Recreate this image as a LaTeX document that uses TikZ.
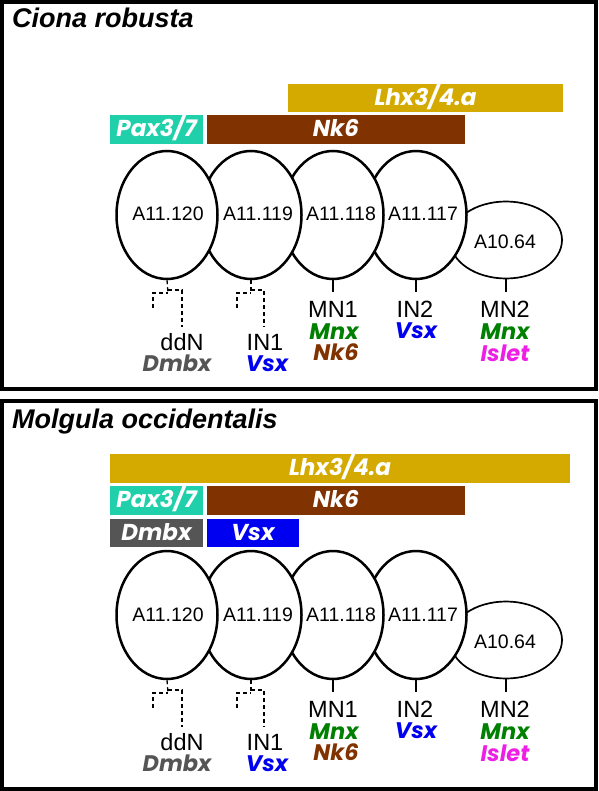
\documentclass[tikz,border=0pt]{standalone}
\usepackage{fontspec}
\setmainfont{Poppins}
\newfontfamily\titlef{Liberation Sans}
\newfontfamily\plainf{Liberation Sans}
\usetikzlibrary{shapes.geometric}
\definecolor{lhxc}{RGB}{212,170,0}
\definecolor{paxc}{RGB}{32,208,170}
\definecolor{nkc}{RGB}{128,51,0}
\definecolor{dmbxc}{RGB}{85,85,85}
\definecolor{vsxc}{RGB}{0,0,240}
\definecolor{mnxc}{RGB}{0,128,0}
\definecolor{isletc}{RGB}{238,30,230}
\newcommand\cellf{\plainf\fontsize{19.5}{19.5}\selectfont}
\newcommand\lblf{\plainf\fontsize{23.5}{23.5}\selectfont}
\newcommand\genef{\fontsize{22.5}{22.5}\selectfont\bfseries\itshape}
\newcommand\barf{\fontsize{23}{23}\selectfont\bfseries\itshape}
\newcommand\ttlf{\titlef\fontsize{27}{27}\selectfont\bfseries\itshape}
\tikzset{
  frame/.style={draw=black, line width=4.5pt},
  bar/.style={rectangle, inner sep=0pt, outer sep=0pt, minimum height=28.5pt, text=white, font=\barf, text height=14.5pt, text depth=0pt},
  cell/.style={ellipse, draw=black, line width=2.5pt, fill=white, inner sep=0pt},
  celltxt/.style={font=\cellf, anchor=base, inner sep=0pt},
  lbl/.style={font=\lblf, anchor=base, inner sep=0pt},
  gene/.style={font=\genef, anchor=base, inner sep=0pt},
  tick/.style={draw=black, line width=1.3pt},
  dsh/.style={draw=black, line width=1.3pt, dash pattern=on 4pt off 3pt},
  ttl/.style={font=\ttlf, anchor=base west, inner sep=0pt}
}
\newcommand\cellrow[2]{%
\begin{scope}[shift={(0,#2)}]
  \node[cell, line width=1.7pt, minimum width=112pt, minimum height=77pt] (#1c5) at (506,240) {};
  \node[cell, minimum width=101pt, minimum height=128pt] (#1c4) at (416,215) {};
  \node[cell, minimum width=101pt, minimum height=128pt] (#1c3) at (333,215) {};
  \node[cell, minimum width=101pt, minimum height=128pt] (#1c2) at (251,215) {};
  \node[cell, minimum width=101pt, minimum height=128pt] (#1c1) at (167,215) {};
  \node[celltxt] (#1n1) at (168,221) {A11.120};
  \node[celltxt] (#1n2) at (258,221) {A11.119};
  \node[celltxt] (#1n3) at (341,221) {A11.118};
  \node[celltxt] (#1n4) at (423,221) {A11.117};
  \node[celltxt] (#1n5) at (505,248) {A10.64};
  % ticks
  \coordinate (#1t3) at (333,292);
  \coordinate (#1t4) at (416,292);
  \coordinate (#1t5) at (506,292);
  \draw[tick] (#1c3.south) -- (#1t3);
  \draw[tick] (#1c4.south) -- (#1t4);
  \draw[tick] (#1c5.south) -- (#1t5);
  % dashed lineage
  \coordinate (#1j1) at (168,293);
  \coordinate (#1a1) at (153,293);
  \coordinate (#1a1e) at (153,308);
  \coordinate (#1b1s) at (168,290);
  \coordinate (#1b1) at (182,290);
  \coordinate (#1b1e) at (182,327);
  \draw[dsh] (#1c1.south) -- (#1j1);
  \draw[dsh] (#1a1e) -- (#1a1) -- (#1j1);
  \draw[dsh] (#1b1s) -- (#1b1) -- (#1b1e);
  \coordinate (#1j2) at (251,293);
  \coordinate (#1a2) at (237,293);
  \coordinate (#1a2e) at (237,308);
  \coordinate (#1b2s) at (251,290);
  \coordinate (#1b2) at (264,290);
  \coordinate (#1b2e) at (264,327);
  \draw[dsh] (#1c2.south) -- (#1j2);
  \draw[dsh] (#1a2e) -- (#1a2) -- (#1j2);
  \draw[dsh] (#1b2s) -- (#1b2) -- (#1b2e);
  % labels
  \node[lbl] (#1ddn) at (182,350) {ddN};
  \node[gene, text=dmbxc] (#1ddng) at (177,371) {Dmbx};
  \node[lbl] (#1in1) at (265,350) {IN1};
  \node[gene, text=vsxc] (#1in1g) at (267,371) {Vsx};
  \node[lbl] (#1mn1) at (333,317) {MN1};
  \node[gene, text=mnxc] (#1mn1g) at (334,339) {Mnx};
  \node[gene, text=nkc] (#1mn1h) at (336,360) {Nk6};
  \node[lbl] (#1in2) at (415,317) {IN2};
  \node[gene, text=vsxc] (#1in2g) at (416,338) {Vsx};
  \node[lbl] (#1mn2) at (505,317) {MN2};
  \node[gene, text=mnxc] (#1mn2g) at (505,339) {Mnx};
  \node[gene, text=isletc] (#1mn2h) at (505,361) {Islet};
\end{scope}}
\begin{document}
\begin{tikzpicture}[x=1pt,y=-1pt]
\useasboundingbox (0,0) rectangle (598,791);
\fill[white] (0,0) rectangle (598,791);
% panel frames
\draw[frame] (2.2,2.2) rectangle (595.8,389);
\draw[frame] (2.2,401) rectangle (595.8,788.8);
% titles
\node[ttl] (title1) at (12,28) {Ciona robusta};
\node[ttl] (title2) at (12,428) {Molgula occidentalis};
% top bars
\node[bar, fill=lhxc, minimum width=275pt, anchor=north west] (lhxA) at (288,84) {Lhx3/4.a};
\node[bar, fill=paxc, minimum width=93pt, anchor=north west] (paxA) at (110,115.5) {Pax3/7};
\node[bar, fill=nkc, minimum width=258pt, anchor=north west] (nkA) at (207,115.5) {Nk6};
% bottom bars
\node[bar, fill=lhxc, minimum width=460pt, anchor=north west] (lhxB) at (110,454) {Lhx3/4.a};
\node[bar, fill=paxc, minimum width=93pt, anchor=north west] (paxB) at (110,486) {Pax3/7};
\node[bar, fill=nkc, minimum width=258pt, anchor=north west] (nkB) at (207,486) {Nk6};
\node[bar, fill=dmbxc, minimum width=93pt, anchor=north west] (dmbxB) at (110,518.5) {Dmbx};
\node[bar, fill=vsxc, minimum width=92pt, anchor=north west] (vsxB) at (207,518.5) {Vsx};
% cells and fates
\cellrow{A}{0}
\cellrow{B}{400}
\end{tikzpicture}
\end{document}
